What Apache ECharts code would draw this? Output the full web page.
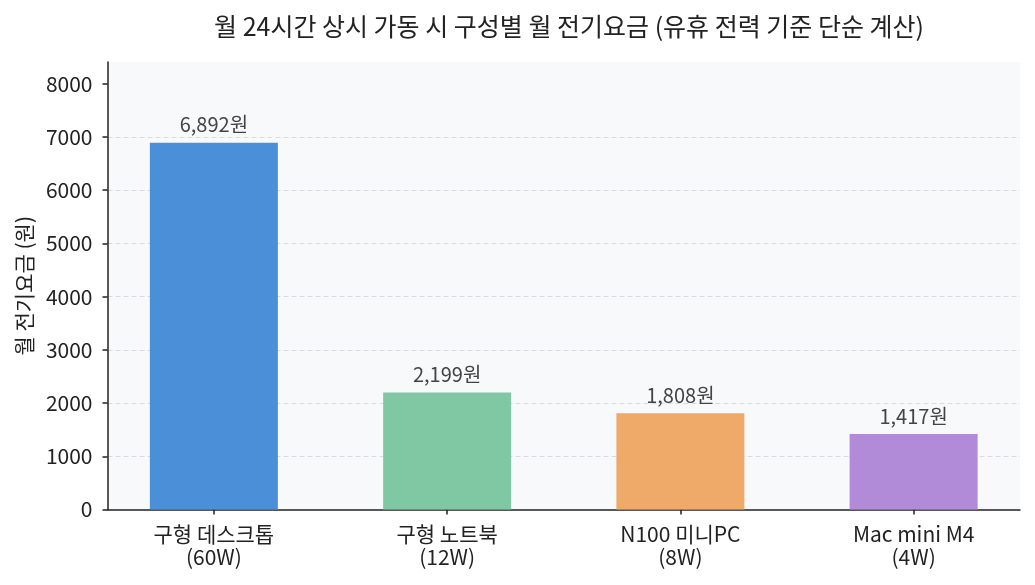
<!DOCTYPE html>
<html>
<head>
<meta charset="utf-8">
<script src="https://cdn.jsdelivr.net/npm/echarts@6/dist/echarts.min.js"></script>
<style>
  html, body { margin: 0; padding: 0; background: #fff; }
  #chart { width: 1035px; height: 585px; }
</style>
</head>
<body>
<div id="chart"></div>
<script>
var categories = ['구형 데스크톱\n(60W)', '구형 노트북\n(12W)', 'N100 미니PC\n(8W)', 'Mac mini M4\n(4W)'];
var costs = [6892, 2199, 1808, 1417];
var barColors = ['#4a8fd8', '#80c8a3', '#efaa6a', '#b18bd8'];
var yTicks = [0, 1000, 2000, 3000, 4000, 5000, 6000, 7000, 8000];

var font = '"Noto Sans CJK KR", "Noto Sans", sans-serif';

var barData = costs.map(function (v, i) {
    return { value: [i, v], itemStyle: { color: barColors[i] } };
});

var chart = echarts.init(document.getElementById('chart'));

var option = {
    animation: false,
    textStyle: { fontFamily: font },
    title: {
        text: '월 24시간 상시 가동 시 구성별 월 전기요금 (유휴 전력 기준 단순 계산)',
        left: 564,
        textAlign: 'center',
        top: 9,
        textStyle: { fontFamily: font, fontSize: 25, fontWeight: 'normal', color: '#222' }
    },
    grid: {
        left: 107.5, right: 15, top: 62, bottom: 75.5,
        show: true, backgroundColor: '#f8f9fb', borderWidth: 0
    },
    xAxis: {
        type: 'value',
        min: -0.456,
        max: 3.456,
        axisLine: { show: true, onZero: false, lineStyle: { color: '#222', width: 1.5 } },
        axisTick: { show: true, length: 5, lineStyle: { color: '#222', width: 1.5 }, customValues: [0, 1, 2, 3] },
        axisLabel: {
            customValues: [0, 1, 2, 3],
            formatter: function (v) { return categories[Math.round(v)]; },
            color: '#222', fontSize: 21, lineHeight: 23, margin: 13, fontFamily: font
        },
        splitLine: { show: false }
    },
    yAxis: {
        type: 'value',
        min: 0,
        max: 8408,
        name: '월 전기요금 (원)',
        nameLocation: 'middle',
        nameGap: 70,
        nameTextStyle: { fontSize: 21, color: '#222', fontFamily: font },
        axisLine: { show: true, onZero: false, lineStyle: { color: '#222', width: 1.5 } },
        axisTick: { show: true, length: 5, lineStyle: { color: '#222', width: 1.5 }, customValues: yTicks },
        axisLabel: {
            customValues: yTicks, color: '#222', fontSize: 21, margin: 15, fontFamily: font,
            formatter: function (v) { return String(v); }
        },
        splitLine: { show: true, showMaxLine: false, showMinLine: false, lineStyle: { color: '#d8dce1', type: [5, 3], width: 1 } }
    },
    series: [{
        type: 'bar',
        barWidth: 128,
        data: barData,
        label: {
            show: true,
            position: 'top',
            distance: 8,
            fontSize: 20,
            color: '#444',
            fontFamily: font,
            formatter: function (p) { return p.value[1].toLocaleString('en-US') + '원'; }
        }
    }]
};

chart.setOption(option);
</script>
</body>
</html>
